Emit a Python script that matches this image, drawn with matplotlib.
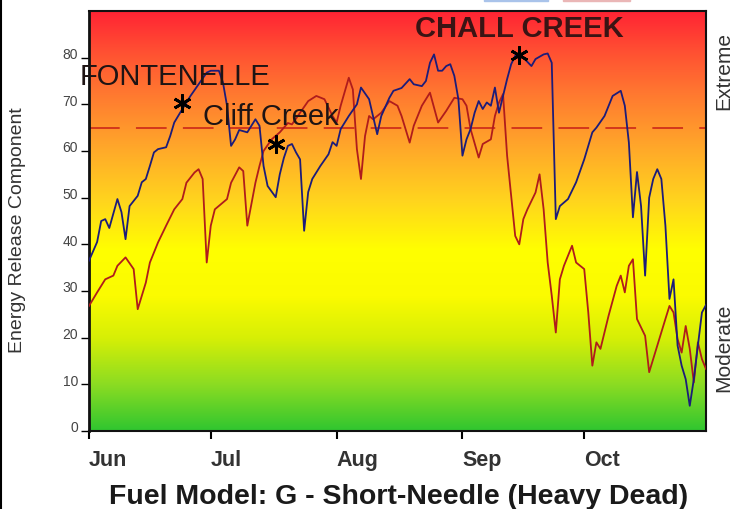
import matplotlib
matplotlib.use('Agg')
import matplotlib.pyplot as plt
import matplotlib.dates as mdates
import matplotlib.transforms as mtransforms
from matplotlib.colors import LinearSegmentedColormap
from matplotlib.patches import Rectangle
from matplotlib.lines import Line2D
import numpy as np
import pandas as pd

plt.rcParams['font.family'] = ['Liberation Sans', 'DejaVu Sans']

season_start = pd.Timestamp('2012-06-01')
season_end = pd.Timestamp('2012-10-31')

# ERC, current season (blue) - days after Jun 1
blue_days = [0, 2, 3, 4, 5, 7, 8, 9, 10, 12, 13, 14, 15, 16, 17, 19, 20, 21, 23, 24,
             25, 27, 29, 30, 32, 33, 34, 35, 36, 37, 39, 41, 42, 43, 44, 46, 47, 48, 49, 50,
             51, 52, 53, 54, 55, 57, 59, 60, 61, 62, 64, 66, 67, 69, 71, 72, 74, 75, 77, 79,
             80, 82, 83, 84, 85, 86, 87, 88, 89, 90, 91, 92, 93, 94, 95, 96, 97, 98, 99, 100,
             101, 102, 103, 104, 105, 107, 109, 110, 112, 113, 114, 115, 116, 118, 120, 122, 124, 125, 127, 129,
             131, 132, 133, 134, 135, 136, 137, 138, 139, 140, 141, 142, 143, 144, 145, 146, 147, 148, 149, 150,
             151, 152]
blue_erc = [36.5, 40.5, 45.0, 45.4, 43.5, 49.7, 46.9, 41.1, 48.2, 50.4, 53.3, 54.0, 56.8, 59.7, 60.4, 60.8, 63.2, 66.1, 69.0, 70.4,
            71.8, 74.3, 76.8, 77.2, 77.2, 74.7, 69.7, 61.1, 62.5, 64.5, 64.0, 66.8, 65.4, 56.8, 52.5, 50.1, 55.0, 58.5, 61.1, 61.5,
            59.7, 58.2, 42.9, 51.2, 54.0, 56.8, 59.3, 61.9, 61.1, 64.7, 67.5, 70.0, 73.6, 71.1, 63.6, 67.5, 71.4, 72.9, 73.5, 75.4,
            74.3, 73.9, 75.0, 78.9, 80.7, 77.2, 77.2, 78.2, 78.6, 76.1, 71.1, 59.0, 62.5, 64.7, 68.2, 70.7, 69.0, 70.4, 69.7, 73.6,
            68.2, 71.8, 75.4, 78.6, 80.4, 80.0, 78.2, 79.7, 80.7, 80.9, 78.9, 45.4, 48.2, 49.7, 53.3, 58.2, 64.0, 65.0, 67.5, 71.8,
            72.9, 69.7, 61.8, 45.8, 55.5, 48.2, 33.3, 50.0, 54.0, 56.1, 54.0, 44.0, 28.3, 32.5, 18.3, 14.0, 11.1, 5.4, 11.1, 18.3,
            25.4, 27.0]

# ERC, comparison season (red)
red_days = [0, 2, 4, 6, 7, 9, 11, 12, 14, 15, 17, 19, 21, 23, 24, 26, 27, 28, 29, 30,
            31, 34, 35, 37, 38, 39, 41, 42, 43, 45, 47, 49, 50, 52, 54, 56, 58, 60, 61, 62,
            64, 65, 66, 67, 68, 69, 70, 72, 74, 76, 77, 79, 80, 82, 84, 85, 86, 88, 90, 92,
            93, 94, 96, 97, 99, 100, 101, 102, 103, 104, 105, 106, 107, 108, 110, 111, 112, 113, 114, 115,
            116, 117, 119, 120, 122, 123, 124, 125, 126, 128, 130, 131, 132, 133, 134, 135, 137, 138, 140, 142,
            143, 144, 145, 146, 147, 148, 149, 150, 151, 152]
red_erc = [26.8, 29.7, 32.5, 33.3, 35.4, 37.2, 34.7, 26.1, 31.8, 36.1, 40.4, 44.0, 47.5, 49.7, 53.2, 55.4, 56.1, 54.0, 36.1, 44.0,
           47.5, 49.7, 53.2, 56.5, 55.7, 44.0, 53.2, 56.8, 60.0, 62.5, 64.0, 66.0, 65.7, 68.2, 70.7, 71.8, 71.1, 67.5, 66.1, 69.7,
           75.7, 73.2, 60.4, 54.0, 63.2, 67.5, 66.8, 68.2, 70.7, 69.7, 67.5, 61.8, 65.4, 69.7, 72.5, 69.3, 66.1, 68.6, 71.4, 71.1,
           69.7, 64.7, 58.6, 61.5, 62.5, 67.5, 70.4, 72.2, 59.0, 50.4, 41.8, 40.0, 45.4, 47.5, 51.1, 55.0, 47.5, 36.1, 29.0, 21.1,
           32.5, 35.4, 39.7, 36.1, 34.7, 25.4, 14.0, 19.0, 17.6, 24.7, 31.1, 33.3, 29.7, 35.4, 36.8, 24.0, 20.4, 12.6, 18.3, 24.0,
           26.8, 25.4, 19.7, 16.8, 22.5, 17.6, 10.4, 19.0, 15.4, 13.3]

threshold = 65
fire_names = ['FONTENELLE', 'Cliff Creek', 'CHALL CREEK']
fire_days = [23, 46, 106]
fire_erc = [70.2, 61.5, 80.5]


def to_dates(days):
    return season_start + pd.to_timedelta(days, unit='D')


W, H = 734, 510
fig = plt.figure(figsize=(W / 100, H / 100), dpi=100)
fig.patch.set_facecolor('white')
ax = fig.add_axes([89 / W, 1 - 432 / H, 617 / W, 420 / H])

# background gradient green -> yellow -> red
cmap = LinearSegmentedColormap.from_list('erc', [
    (0.00, '#30c630'), (0.11, '#8cdc22'), (0.22, '#d6ef06'), (0.32, '#fbfb00'),
    (0.43, '#ffff00'), (0.55, '#ffd41e'), (0.68, '#ffa62a'), (0.80, '#ff7a30'),
    (0.90, '#ff5232'), (1.00, '#ff2434')])
x0 = mdates.date2num(season_start)
x1 = mdates.date2num(season_end)
ax.imshow(np.linspace(0, 1, 256).reshape(-1, 1), extent=[x0, x1, 0, 90], origin='lower',
          aspect='auto', cmap=cmap, zorder=0)

ax.axhline(threshold, color='#d0301a', lw=1.3, linestyle=(0, (17, 9)), zorder=2)
ax.plot(to_dates(red_days), red_erc, color='#b01c1c', lw=1.3, zorder=3)
ax.plot(to_dates(blue_days), blue_erc, color='#1c1c7a', lw=1.3, zorder=4)
ax.plot(to_dates(fire_days), fire_erc, linestyle='none', marker=(6, 2, 0), ms=13,
        mew=2, color='black', zorder=5)

ax.set_xlim(x0, x1)
ax.set_ylim(0, 90)
ax.set_yticks(range(0, 90, 10))
ax.xaxis.set_major_locator(mdates.MonthLocator())
ax.xaxis.set_major_formatter(mdates.DateFormatter('%b'))
ax.tick_params(axis='x', length=6, width=1.5, pad=7, labelsize=15.5, labelcolor='#333333')
ax.tick_params(axis='y', length=6, width=1, pad=2, labelsize=10, labelcolor='#444444')
for lab in ax.get_xticklabels():
    lab.set_horizontalalignment('left')
    lab.set_fontweight('bold')
off = mtransforms.ScaledTranslation(0, 5 / 100, fig.dpi_scale_trans)
for lab in ax.get_yticklabels():
    lab.set_transform(lab.get_transform() + off)
for s in ax.spines.values():
    s.set_linewidth(1.5)
    s.set_color('#111111')
ax.spines['left'].set_linewidth(2)

# fire labels
fig.text(80 / W, 1 - 77 / H, fire_names[0], fontsize=21, color='#1e1414', va='center', ha='left')
fig.text(203 / W, 1 - 117 / H, fire_names[1], fontsize=21, color='#1e1414', va='center', ha='left')
fig.text(415 / W, 1 - 29 / H, fire_names[2], fontsize=21, fontweight='bold', color='#3a1414',
         va='center', ha='left')

fig.text(18 / W, 1 - 230 / H, 'Energy Release Component', rotation=90, fontsize=14,
         color='#333333', ha='center', va='center')
fig.text(724 / W, 1 - 71 / H, 'Extreme', rotation=90, fontsize=15, color='#333333',
         ha='center', va='center')
fig.text(724 / W, 1 - 348 / H, 'Moderate', rotation=90, fontsize=15, color='#333333',
         ha='center', va='center')
fig.text(399 / W, 1 - 497 / H, 'Fuel Model: G - Short-Needle (Heavy Dead)', fontsize=20.5,
         fontweight='bold', color='#1a1a1a', ha='center', va='center')

# clipped legend boxes at top edge and left border
fig.patches.append(Rectangle((484 / W, 1 - 2 / H), 64 / W, 2 / H, color='#a9c3ea',
                             transform=fig.transFigure, figure=fig))
fig.patches.append(Rectangle((563 / W, 1 - 2 / H), 67 / W, 2 / H, color='#eab6b6',
                             transform=fig.transFigure, figure=fig))
fig.lines.append(Line2D([1 / W, 1 / W], [0, 1], color='black', lw=1.5,
                        transform=fig.transFigure, figure=fig))

fig.savefig('out.png', dpi=100)
